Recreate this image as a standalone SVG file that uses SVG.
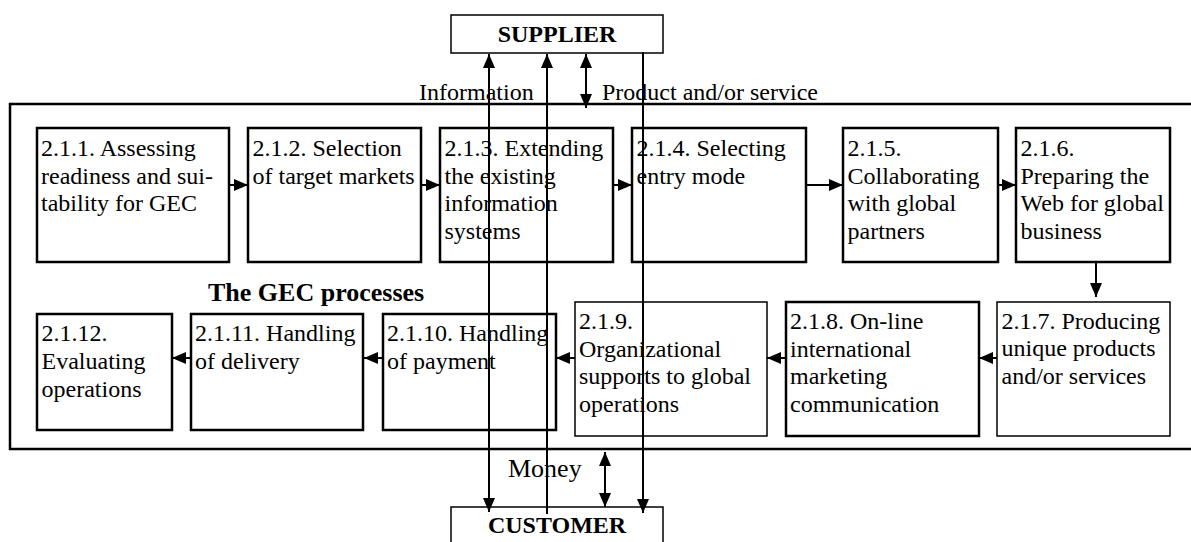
<svg xmlns="http://www.w3.org/2000/svg" width="1191" height="542" viewBox="0 0 1191 542">
  <style>
    text { font-family: "Liberation Serif", "Times New Roman", serif; fill: #000; }
    .lbl { font-size: 24px; }
    .bold { font-weight: bold; }
    .box { fill: none; stroke: #000; stroke-width: 2.5; }
    .thin { fill: none; stroke: #000; stroke-width: 1.5; }
    .ln { fill: none; stroke: #000; stroke-width: 2; }
  </style>
  <defs>
    <marker id="arr" markerUnits="userSpaceOnUse" markerWidth="14" markerHeight="12" refX="14" refY="6" orient="auto-start-reverse" viewBox="0 0 14 12">
      <path d="M0,0 L14,6 L0,12 z" fill="#000"/>
    </marker>
  </defs>

  <rect width="1191" height="542" fill="#fff"/>

  <!-- Supplier and customer -->
  <g id="supplier">
    <rect class="thin" x="451" y="15" width="212" height="38"/>
    <text class="lbl bold" x="557" y="42" text-anchor="middle">SUPPLIER</text>
  </g>
  <g id="customer">
    <rect class="thin" x="451" y="507" width="212" height="50"/>
    <text class="lbl bold" x="557" y="533" text-anchor="middle">CUSTOMER</text>
  </g>

  <!-- Enclosing process frame -->
  <g id="gec-frame">
    <rect class="box" x="10" y="104" width="1200" height="345"/>
    <text class="bold" x="208" y="301" font-size="26">The GEC processes</text>
  </g>

  <!-- First row of processes -->
  <g id="p211">
    <rect class="box" x="37" y="128" width="192" height="134"/>
    <text class="lbl" x="41" y="156"><tspan x="41">2.1.1. Assessing</tspan><tspan x="41" dy="27.7">readiness and sui-</tspan><tspan x="41" dy="27.7">tability for GEC</tspan></text>
  </g>
  <g id="p212">
    <rect class="box" x="248" y="128" width="173" height="134"/>
    <text class="lbl" x="252.5" y="156"><tspan x="252.5">2.1.2. Selection</tspan><tspan x="252.5" dy="27.7">of target markets</tspan></text>
  </g>
  <g id="p213">
    <rect class="box" x="440" y="128" width="173" height="134"/>
    <text class="lbl" x="444.5" y="156"><tspan x="444.5">2.1.3. Extending</tspan><tspan x="444.5" dy="27.7">the existing</tspan><tspan x="444.5" dy="27.7">information</tspan><tspan x="444.5" dy="27.7">systems</tspan></text>
  </g>
  <g id="p214">
    <rect class="box" x="632" y="128" width="174" height="134"/>
    <text class="lbl" x="636.5" y="156"><tspan x="636.5">2.1.4. Selecting</tspan><tspan x="636.5" dy="27.7">entry mode</tspan></text>
  </g>
  <g id="p215">
    <rect class="box" x="843" y="128" width="155" height="134"/>
    <text class="lbl" x="847.5" y="156"><tspan x="847.5">2.1.5.</tspan><tspan x="847.5" dy="27.7">Collaborating</tspan><tspan x="847.5" dy="27.7">with global</tspan><tspan x="847.5" dy="27.7">partners</tspan></text>
  </g>
  <g id="p216">
    <rect class="box" x="1016" y="128" width="154" height="134"/>
    <text class="lbl" x="1020.5" y="156"><tspan x="1020.5">2.1.6.</tspan><tspan x="1020.5" dy="27.7">Preparing the</tspan><tspan x="1020.5" dy="27.7">Web for global</tspan><tspan x="1020.5" dy="27.7">business</tspan></text>
  </g>

  <!-- Second row of processes -->
  <g id="p217">
    <rect class="thin" x="997" y="302" width="173" height="134"/>
    <text class="lbl" x="1001.5" y="329"><tspan x="1001.5">2.1.7. Producing</tspan><tspan x="1001.5" dy="27.3">unique products</tspan><tspan x="1001.5" dy="27.3">and/or services</tspan></text>
  </g>
  <g id="p218">
    <rect class="box" x="786" y="302" width="193" height="134"/>
    <text class="lbl" x="790" y="329"><tspan x="790">2.1.8. On-line</tspan><tspan x="790" dy="27.7">international</tspan><tspan x="790" dy="27.7">marketing</tspan><tspan x="790" dy="27.7">communication</tspan></text>
  </g>
  <g id="p219">
    <rect class="thin" x="575" y="302" width="192" height="134"/>
    <text class="lbl" x="579" y="329"><tspan x="579">2.1.9.</tspan><tspan x="579" dy="27.7">Organizational</tspan><tspan x="579" dy="27.7">supports to global</tspan><tspan x="579" dy="27.7">operations</tspan></text>
  </g>
  <g id="p2110">
    <rect class="box" x="383" y="314" width="173" height="116"/>
    <text class="lbl" x="387" y="341"><tspan x="387">2.1.10. Handling</tspan><tspan x="387" dy="28">of payment</tspan></text>
  </g>
  <g id="p2111">
    <rect class="box" x="191" y="314" width="172" height="116"/>
    <text class="lbl" x="195" y="341"><tspan x="195">2.1.11. Handling</tspan><tspan x="195" dy="28">of delivery</tspan></text>
  </g>
  <g id="p2112">
    <rect class="box" x="37" y="314" width="135" height="116"/>
    <text class="lbl" x="41.5" y="341"><tspan x="41.5">2.1.12.</tspan><tspan x="41.5" dy="27.8">Evaluating</tspan><tspan x="41.5" dy="27.8">operations</tspan></text>
  </g>

  <!-- Flow labels -->
  <g id="flow-labels">
    <text class="lbl" x="419" y="100">Information</text>
    <text class="lbl" x="602" y="100">Product and/or service</text>
    <text x="508" y="477" font-size="26">Money</text>
  </g>

  <!-- Connectors -->
  <g id="connectors">
    <!-- process sequence, first row -->
    <line class="ln" x1="229" y1="185" x2="248" y2="185" marker-end="url(#arr)"/>
    <line class="ln" x1="421" y1="185" x2="440" y2="185" marker-end="url(#arr)"/>
    <line class="ln" x1="613" y1="185" x2="632" y2="185" marker-end="url(#arr)"/>
    <line class="ln" x1="806" y1="185" x2="843" y2="185" marker-end="url(#arr)"/>
    <line class="ln" x1="998" y1="185" x2="1016" y2="185" marker-end="url(#arr)"/>
    <!-- turn down to the second row -->
    <line class="ln" x1="1096" y1="262" x2="1096" y2="297" marker-end="url(#arr)"/>
    <!-- process sequence, second row -->
    <line class="ln" x1="997" y1="358" x2="979" y2="358" marker-end="url(#arr)"/>
    <line class="ln" x1="786" y1="358" x2="767" y2="358" marker-end="url(#arr)"/>
    <line class="ln" x1="575" y1="358" x2="556" y2="358" marker-end="url(#arr)"/>
    <line class="ln" x1="383" y1="358" x2="364" y2="358" marker-end="url(#arr)"/>
    <line class="ln" x1="191" y1="358" x2="172" y2="358" marker-end="url(#arr)"/>
    <!-- information flows between supplier and customer -->
    <line class="ln" x1="489" y1="54" x2="489" y2="512" marker-start="url(#arr)" marker-end="url(#arr)"/>
    <line class="ln" x1="547" y1="54" x2="547" y2="514" marker-start="url(#arr)"/>
    <line class="ln" x1="643" y1="52" x2="643" y2="513" marker-end="url(#arr)"/>
    <!-- product and/or service -->
    <line class="ln" x1="586" y1="54" x2="586" y2="108" marker-start="url(#arr)" marker-end="url(#arr)"/>
    <!-- money -->
    <line class="ln" x1="605" y1="452" x2="605" y2="507" marker-start="url(#arr)" marker-end="url(#arr)"/>
  </g>
</svg>
